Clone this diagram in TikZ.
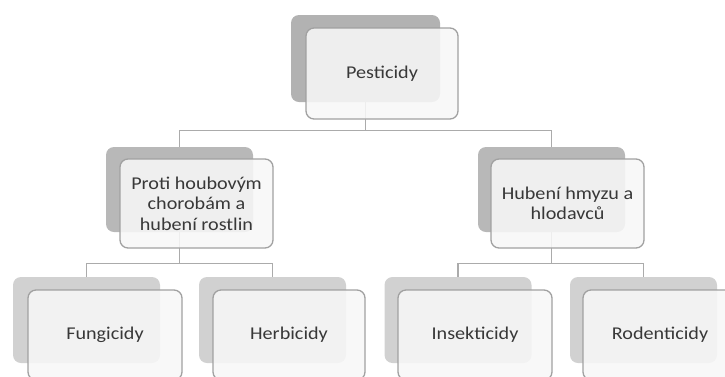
\documentclass[tikz,border=0pt]{standalone}
\usepackage{fontspec}
\setmainfont{Carlito}[FakeStretch=1.12]
\begin{document}
\begin{tikzpicture}[x=1pt,y=-1pt,
  conn/.style={draw=black!33,line width=1.4pt},
  shadowtop/.style={draw=none,fill=black!30,rounded corners=8pt,minimum width=149pt,minimum height=87pt,inner sep=0pt},
  shadowmid/.style={draw=none,fill=black!28,rounded corners=8pt,minimum width=147pt,minimum height=85pt,inner sep=0pt},
  shadowlow/.style={draw=none,fill=black!18,rounded corners=8pt,minimum width=147pt,minimum height=86pt,inner sep=0pt},
  front/.style={draw=black!37,line width=1.3pt,fill=black!3,fill opacity=0.88,text opacity=1,rounded corners=8pt,minimum width=153pt,minimum height=90pt,inner sep=0pt,align=center,text=black!78,font=\fontsize{18}{20.5}\selectfont}]
\useasboundingbox (0,0) rectangle (725,376);
\clip (0,0) rectangle (725,376);
% shadows
\node[shadowtop] (ts) at (365.5,58.5) {};
\node[shadowmid] (ls) at (179.5,189.5) {};
\node[shadowmid] (rs) at (551.5,189.5) {};
\node[shadowlow] (fs) at (86.5,320) {};
\node[shadowlow] (hs) at (272.5,320) {};
\node[shadowlow] (is) at (458,320) {};
\node[shadowlow] (ros) at (643.5,320) {};
% connectors
\draw[conn] (ts.south) -- ++(0,28) -| (ls.north);
\draw[conn] (ts.south) -- ++(0,28) -| (rs.north);
\draw[conn] (ls.south) -- ++(0,31) -| (fs.north);
\draw[conn] (ls.south) -- ++(0,31) -| (hs.north);
\draw[conn] (rs.south) -- ++(0,31) -| (is.north);
\draw[conn] (rs.south) -- ++(0,31) -| (ros.north);
% front boxes
\node[front,minimum height=91pt,minimum width=152pt] (t) at (382,73.5) {Pesticidy};
\node[front,minimum height=89pt] (l) at (196.5,203.5) {Proti houbový\kern-0.5ptm\\chorobám a\\hubení rostlin};
\node[front,minimum height=89pt] (r) at (567.5,203.5) {Hubení hmyzu a\\hlodavců};
\node[front,minimum width=154pt] (f) at (105,335) {Fungicidy};
\node[front,minimum width=152pt] (h) at (289,335) {Herbicidy};
\node[front,minimum width=154pt] (i) at (475,335) {Insekticidy};
\node[front,minimum width=154pt] (ro) at (660,335) {Rodenticidy};
\end{tikzpicture}
\end{document}
